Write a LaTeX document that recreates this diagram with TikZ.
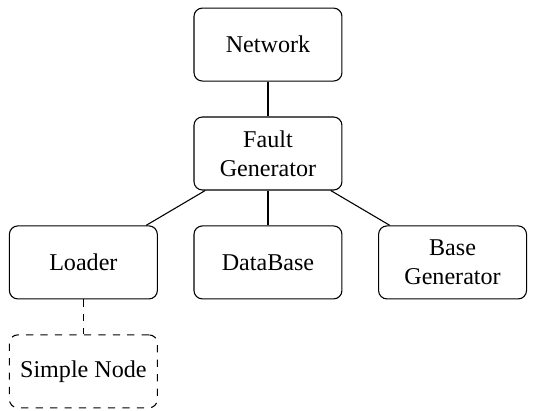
\documentclass[tikz,border=0pt]{standalone}
\usepackage{fontspec}
\setmainfont{Liberation Serif}
\usepackage{tikz}

\begin{document}
\begin{tikzpicture}[level distance=45.2pt,
level 1/.style={sibling distance=76.6pt},
  every node/.style = {shape=rectangle, rounded corners=3.5pt,
    draw, align=center, line width=0.45pt,
    minimum width=61.4pt, minimum height=30.3pt, inner sep=1pt
	},
  edge from parent/.style={draw, line width=0.45pt}]
  \useasboundingbox (-111.2pt,-151.7pt) rectangle (113.3pt,18.5pt);
  \node (net) {Network}
    child { node (fault) {Fault\\Generator}
    	child { node (loader) {Loader}
    		child { node[dashed] (simple) {Simple Node}
    			edge from parent[dashed]}
    	}
    	child { node (db) {DataBase}}
    	child { node (basegen) {Base\\Generator}}
    };
\end{tikzpicture}
\end{document}
